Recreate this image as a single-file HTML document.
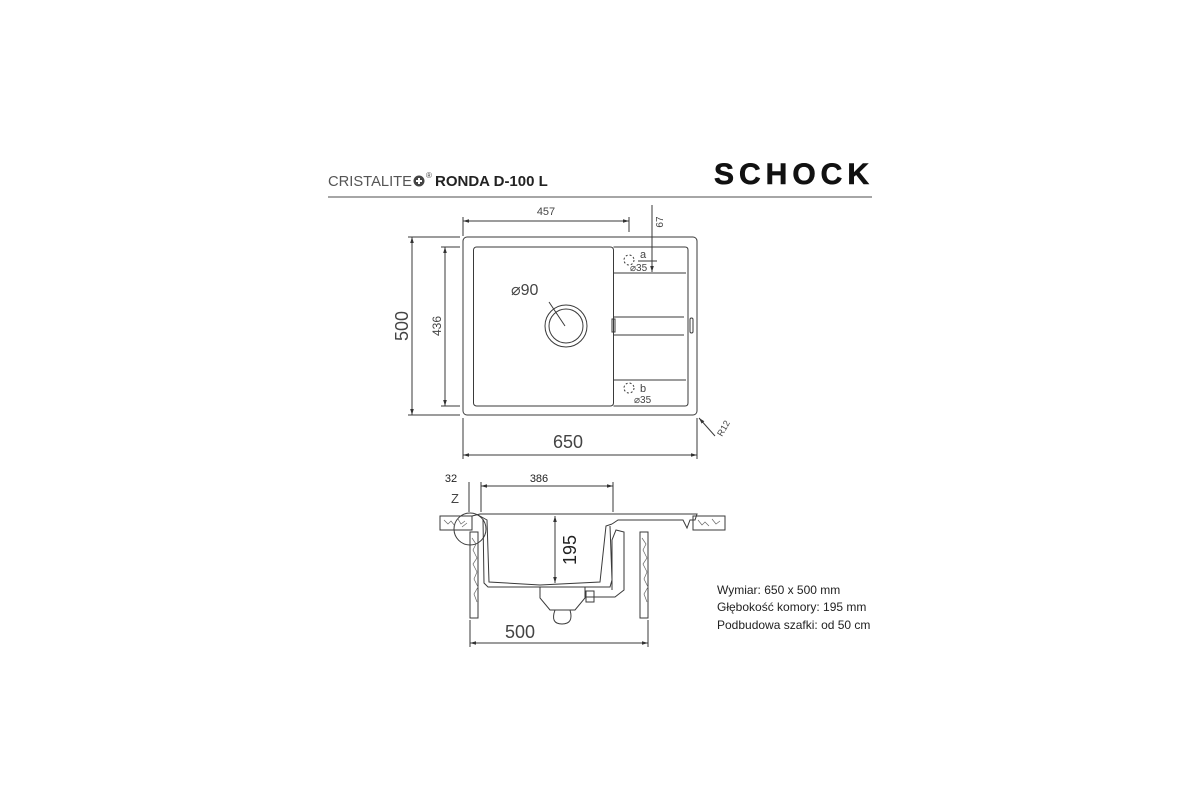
<!DOCTYPE html>
<html><head><meta charset="utf-8"><style>
html,body{margin:0;padding:0;background:#fff;width:1200px;height:800px;overflow:hidden}
svg{display:block}
text{font-family:"Liberation Sans",Arial,sans-serif}
</style></head><body>
<svg width="1200" height="800" viewBox="0 0 1200 800" xmlns="http://www.w3.org/2000/svg">
<defs>
<marker id="a" viewBox="0 0 10 10" refX="10" refY="5" markerWidth="6" markerHeight="6" orient="auto-start-reverse"><path d="M0,2 L10,5 L0,8 z" fill="#333"/></marker>
</defs>
<!-- header -->
<text x="328" y="186" font-size="15" fill="#555" textLength="84" lengthAdjust="spacingAndGlyphs">CRISTALITE</text>
<circle cx="419" cy="181" r="5.5" fill="#444"/><path d="M416,181h6M419,178v6" stroke="#fff" stroke-width="2"/>
<text x="426" y="178" font-size="8" fill="#444">®</text>
<text x="435" y="186" font-size="15" font-weight="bold" fill="#222">RONDA D-100 L</text>
<text x="714" y="184" font-size="30" font-weight="900" fill="#111" stroke="#111" stroke-width="0.6" textLength="157" lengthAdjust="spacing" letter-spacing="2">SCHOCK</text>
<line x1="328" y1="197" x2="872" y2="197" stroke="#888" stroke-width="1.5"/>

<g fill="none" stroke="#3a3a3a" stroke-width="1">
<!-- top view -->
<rect x="463" y="237" width="234" height="178" rx="4"/>
<rect x="473.5" y="247" width="140" height="159" rx="3"/>
<path d="M613.5,247 H685 Q688,247 688,250 V403 Q688,406 685,406 H613.5"/>
<line x1="614" y1="273" x2="686" y2="273"/>
<line x1="614" y1="317" x2="684" y2="317"/>
<line x1="614" y1="335" x2="684" y2="335"/>
<line x1="614" y1="380" x2="686" y2="380"/>
<rect x="612" y="319" width="3" height="13"/>
<rect x="690" y="318" width="3" height="15" rx="1.5"/>
<circle cx="566" cy="326" r="21"/><circle cx="566" cy="326" r="17"/>
<line x1="549" y1="302" x2="565" y2="326"/>
<circle cx="629" cy="260" r="5" stroke-dasharray="2,2"/>
<circle cx="629" cy="388" r="5" stroke-dasharray="2,2"/>
<line x1="638" y1="261" x2="657" y2="261"/>
<!-- dimensions -->
<line x1="463" y1="221" x2="629" y2="221" marker-start="url(#a)" marker-end="url(#a)"/>
<line x1="463" y1="217" x2="463" y2="236"/><line x1="629" y1="217" x2="629" y2="232"/>
<line x1="652" y1="205" x2="652" y2="272" marker-end="url(#a)"/>
<line x1="412" y1="237" x2="412" y2="415" marker-start="url(#a)" marker-end="url(#a)"/>
<line x1="408" y1="237" x2="460" y2="237"/><line x1="408" y1="415" x2="460" y2="415"/>
<line x1="445" y1="247" x2="445" y2="406" marker-start="url(#a)" marker-end="url(#a)"/>
<line x1="441" y1="247" x2="460" y2="247"/><line x1="441" y1="406" x2="460" y2="406"/>
<line x1="463" y1="455" x2="697" y2="455" marker-start="url(#a)" marker-end="url(#a)"/>
<line x1="463" y1="418" x2="463" y2="459"/><line x1="697" y1="418" x2="697" y2="459"/>
<line x1="715" y1="436" x2="699" y2="418" marker-end="url(#a)"/>

<!-- side view -->
<rect x="440" y="516" width="32" height="14"/>
<rect x="693" y="516" width="32" height="14"/>
<rect x="470" y="532" width="8" height="86"/>
<rect x="640" y="532" width="8" height="86"/>
<path d="M472,516 L480,514 L697,514 L695,520 L690,520 L687,528 L683,520 L618,520 L612,524"/>
<path d="M478,515 L487,520 L489,582 L540,585 L600,582 L606,526 L612,524"/>
<path d="M483,519 L484,583 L488,587 L610,587 L612,580 L610,526"/>
<path d="M540,587 L540,598 L550,610 L575,610 L585,598 L585,587"/>
<path d="M555,610 Q550,624 562,624 Q574,624 570,610"/>
<path d="M585,597 L615,597 L624,590 L624,532 L616,530 L612,540 L612,590"/>
<rect x="586" y="591" width="8" height="11"/>
<circle cx="470" cy="529" r="16"/>
<line x1="481" y1="486" x2="613" y2="486" marker-start="url(#a)" marker-end="url(#a)"/>
<line x1="481" y1="482" x2="481" y2="512"/><line x1="613" y1="482" x2="613" y2="512"/>
<line x1="469" y1="482" x2="469" y2="512"/>
<line x1="555" y1="516" x2="555" y2="583" marker-start="url(#a)" marker-end="url(#a)"/>
<line x1="470" y1="643" x2="648" y2="643" marker-start="url(#a)" marker-end="url(#a)"/>
<line x1="470" y1="620" x2="470" y2="647"/><line x1="648" y1="620" x2="648" y2="647"/>
</g>
<g stroke="#666" stroke-width="0.7" fill="none">
<path d="M444,520 l4,4 l3,-3 l4,5 M458,519 l3,5 l4,-3 M462,527 l5,-4"/>
<path d="M698,520 l4,5 l3,-3 l4,4 M712,519 l4,5 l4,-3"/>
<path d="M472,538 l4,6 l-3,6 l4,8 l-4,6 l4,8 l-3,7 l4,8 l-4,7 l3,8"/>
<path d="M642,538 l4,6 l-3,6 l4,8 l-4,6 l4,8 l-3,7 l4,8 l-4,7 l3,8"/>
</g>
<!-- labels -->
<g fill="#444">
<text x="546" y="215" font-size="11" text-anchor="middle">457</text>
<text x="663" y="222" font-size="10" transform="rotate(-90 663 222)" text-anchor="middle">67</text>
<text x="640" y="258" font-size="11">a</text>
<text x="630" y="271" font-size="10">⌀35</text>
<text x="640" y="392" font-size="11">b</text>
<text x="634" y="403" font-size="10">⌀35</text>
<text x="511" y="295" font-size="16">⌀90</text>
<text x="408" y="326" font-size="18" text-anchor="middle" transform="rotate(-90 408 326)">500</text>
<text x="441" y="326" font-size="12" text-anchor="middle" transform="rotate(-90 441 326)">436</text>
<text x="568" y="448" font-size="18" text-anchor="middle">650</text>
<text x="722" y="437" font-size="9" transform="rotate(-60 722 437)">R12</text>
<text x="451" y="482" font-size="11" text-anchor="middle" fill="#222">32</text>
<text x="539" y="482" font-size="11" text-anchor="middle" fill="#222">386</text>
<text x="455" y="503" font-size="13" text-anchor="middle">Z</text>
<text x="576" y="550" font-size="18" text-anchor="middle" transform="rotate(-90 576 550)" fill="#222">195</text>
<text x="520" y="638" font-size="18" text-anchor="middle">500</text>
</g>
<g fill="#222" font-size="12">
<text x="717" y="594">Wymiar:  650 x 500 mm</text>
<text x="717" y="611">Głębokość komory: 195 mm</text>
<text x="717" y="629">Podbudowa szafki: od 50 cm</text>
</g>
</svg>
</body></html>
